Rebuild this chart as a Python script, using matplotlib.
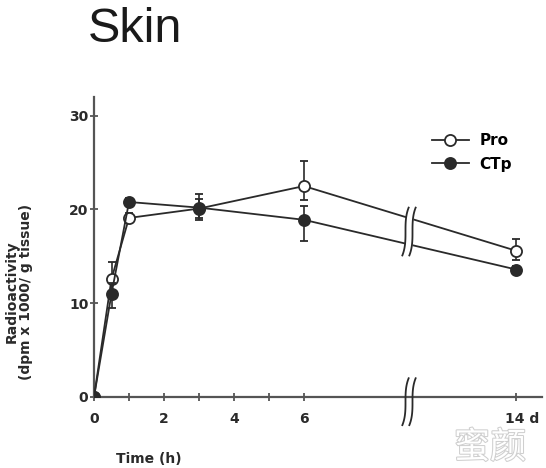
import numpy as np
import matplotlib.pyplot as plt
import matplotlib.transforms as mtransforms
import matplotlib.patheffects as pe
from matplotlib.lines import Line2D

# Data
time_h = [0, 0.5, 1, 3, 6]          # hours
day_label = "14 d"                   # last sample, after the axis break
pro_mean = [0, 12.6, 19.1, 20.1, 22.5, 15.6]
pro_err_lo = [0, 1.6, 0.5, 1.0, 1.5, 1.0]
pro_err_hi = [0, 1.8, 0.5, 1.0, 2.7, 1.3]
ctp_mean = [0, 11.0, 20.8, 20.2, 18.9, 13.6]
ctp_err_lo = [0, 1.5, 0.4, 1.3, 2.3, 0.4]
ctp_err_hi = [0, 1.2, 0.4, 1.4, 1.5, 0.4]
y_ticks = [0, 10, 20, 30]

# Layout: where the day point sits on the hour axis and where the break goes
day_pos = 12.06
break_pos = 9.0
x_pos = time_h + [day_pos]

ink = '#2a2a2a'
plt.rcParams['font.family'] = ['DejaVu Sans']

fig = plt.figure(figsize=(5.46, 4.68), dpi=100)
ax = fig.add_axes([94 / 546, 71 / 468, 448 / 546, 300 / 468])

ax.errorbar(x_pos, pro_mean, yerr=[pro_err_lo, pro_err_hi], color=ink, lw=1.3,
            marker='o', ms=8, mfc='white', mec=ink, mew=1.3,
            capsize=3, elinewidth=1.2, zorder=3)
ax.errorbar(x_pos, ctp_mean, yerr=[ctp_err_lo, ctp_err_hi], color=ink, lw=1.3,
            marker='o', ms=8, mfc=ink, mec=ink, mew=1.3,
            capsize=3, elinewidth=1.2, zorder=4)

ax.set_xlim(0, 12.8)
ax.set_ylim(0, 32)
ax.set_yticks(y_ticks)
ax.set_xticks([0, 2, 4, 6, day_pos])
ax.set_xticklabels(['0', '2', '4', '6', day_label])
ax.set_xticks([1, 3, 5], minor=True)

for side in ['top', 'right']:
    ax.spines[side].set_visible(False)
for side in ['left', 'bottom']:
    ax.spines[side].set_color('#555555')
    ax.spines[side].set_linewidth(1.6)
ax.tick_params(which='both', direction='inout', length=6, width=1.3,
               color='#555555', labelsize=10, labelcolor=ink)
ax.tick_params(axis='x', pad=8)
ax.tick_params(axis='y', pad=1)
for lab in ax.get_xticklabels() + ax.get_yticklabels():
    lab.set_fontweight('bold')
# shift "14 d" so the number sits on its tick
last = ax.get_xticklabels()[-1]
last.set_transform(last.get_transform() +
                   mtransforms.ScaledTranslation(6 / 100, 0, fig.dpi_scale_trans))


# axis-break marks: two near-vertical strokes shaped like an integral sign
def break_mark(x0, y0, y1, w):
    s = np.linspace(0, 1, 50)
    yy = y0 + (y1 - y0) * s
    xx = x0 + w * (2 * s - 1) ** 3
    return xx, yy

gap = 0.2
for y0, y1, blank in [(15.1, 20.2, True), (-3.0, 2.0, False)]:
    xa, ya = break_mark(break_pos - gap / 2, y0, y1, 0.09)
    xb, yb = break_mark(break_pos + gap / 2, y0, y1, 0.09)
    if blank:
        ax.fill_betweenx(ya, xa, xb, color='white', zorder=4.5, lw=0)
    ax.plot(xa, ya, color=ink, lw=1.3, zorder=5, clip_on=False)
    ax.plot(xb, yb, color=ink, lw=1.3, zorder=5, clip_on=False)

handles = [
    Line2D([], [], color=ink, lw=1.3, marker='o', ms=8, mfc='white', mec=ink, mew=1.3),
    Line2D([], [], color=ink, lw=1.3, marker='o', ms=8, mfc=ink, mec=ink, mew=1.3),
]
ax.legend(handles, ['Pro', 'CTp'], loc='upper left',
          bbox_to_anchor=(332 / 448, 0.9), frameon=False,
          handlelength=2.4, prop={'weight': 'bold', 'size': 11},
          labelspacing=0.55, handletextpad=0.7, borderaxespad=0)

ax.set_xlabel('Time (h)', fontsize=10, fontweight='bold', color=ink)
ax.xaxis.set_label_coords(55 / 448, -55 / 300)
ax.set_ylabel('Radioactivity\n(dpm x 1000/ g tissue)', fontsize=10,
              fontweight='bold', color=ink, linespacing=1.05)
ax.yaxis.set_label_coords(-61 / 448, 105 / 300)

fig.text(88 / 546, 1 - 42 / 468, 'Skin', fontsize=35, color='#1a1a1a',
         ha='left', va='baseline', family=['Liberation Sans', 'DejaVu Sans'])

# watermark
fig.text(490 / 546, 1 - 458 / 468, '蜜颜', fontsize=26, color='white',
         ha='center', va='baseline', family=['Noto Sans CJK SC', 'DejaVu Sans'],
         path_effects=[pe.withStroke(linewidth=1.5, foreground='#cfcfcf')])

fig.savefig('out.png', dpi=100)
